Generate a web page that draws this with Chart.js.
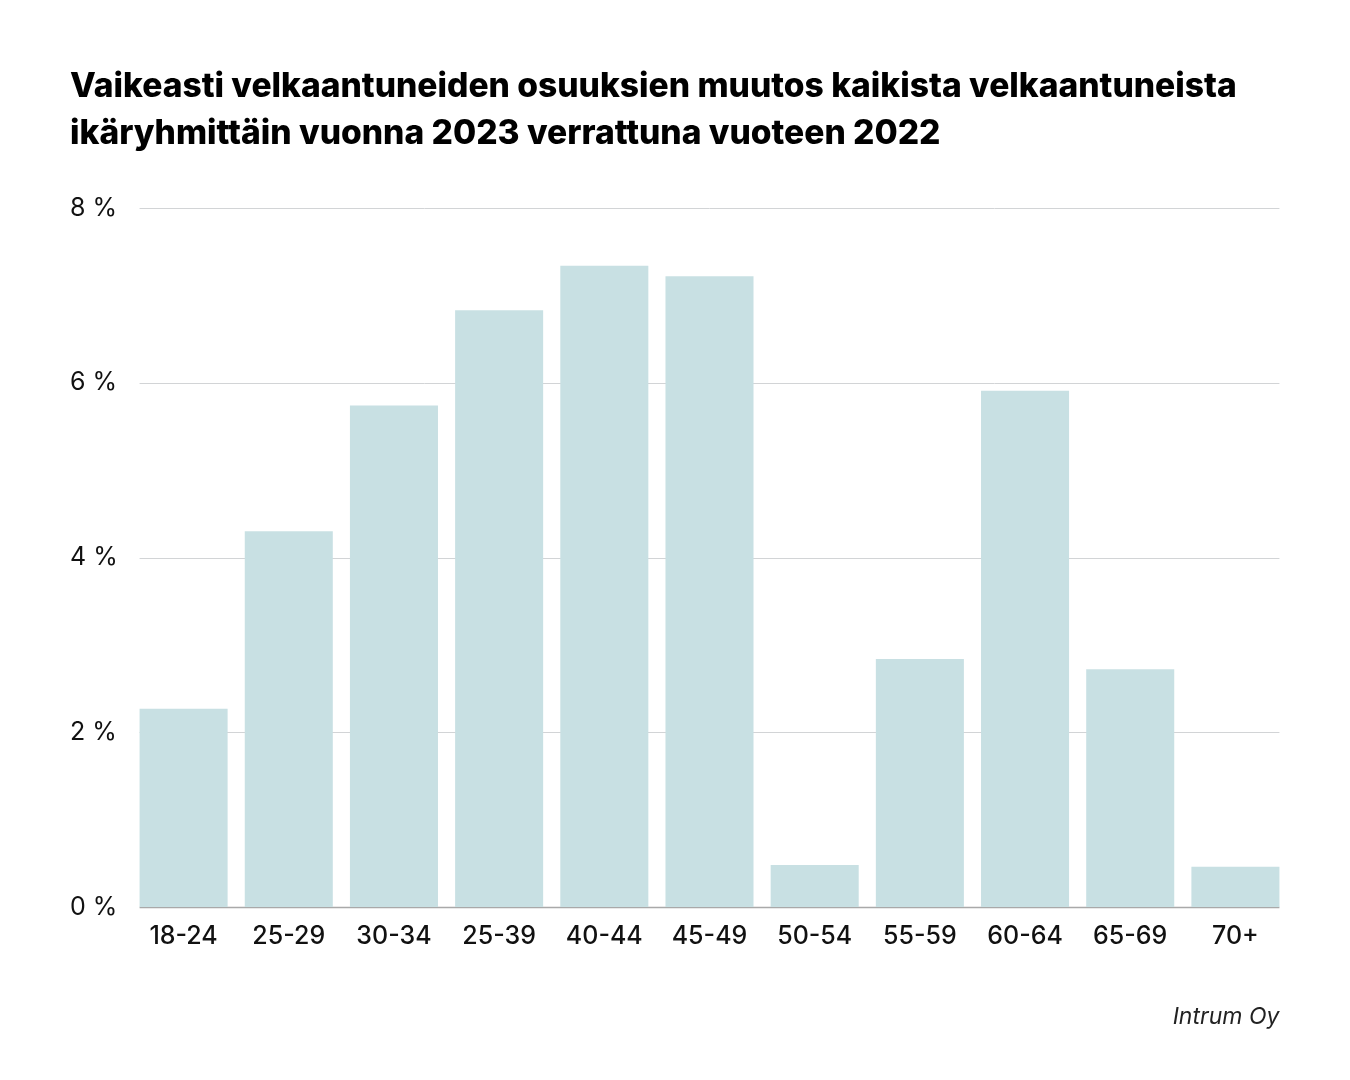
<!DOCTYPE html>
<html>
<head>
<meta charset="utf-8">
<script src="https://cdn.jsdelivr.net/npm/chart.js@4"></script>
<style>
  html, body { margin: 0; padding: 0; background: #fff; }
  #wrap { width: 1350px; height: 1080px; }
</style>
</head>
<body>
<div id="wrap"><canvas id="barChart"></canvas></div>
<script>
const ageGroups = ["18-24", "25-29", "30-34", "25-39", "40-44", "45-49", "50-54", "55-59", "60-64", "65-69", "70+"];
const shareChange = [2.27, 4.3, 5.74, 6.83, 7.34, 7.22, 0.48, 2.84, 5.91, 2.72, 0.46];
const yTicks = [0, 2, 4, 6, 8];
const titleLines = [
  "Vaikeasti velkaantuneiden osuuksien muutos kaikista velkaantuneista",
  "ikäryhmittäin vuonna 2023 verrattuna vuoteen 2022",
];
const sourceText = "Intrum Oy";

const FONT = "Inter, 'Noto Sans', sans-serif";

// grid lines only span from first bar to last bar
const gridPlugin = {
  id: "barGrid",
  beforeDatasetsDraw(chart) {
    const bars = chart.getDatasetMeta(0).data;
    const first = bars[0], last = bars[bars.length - 1];
    const x0 = first.x - first.width / 2;
    const x1 = last.x + last.width / 2;
    const y = chart.scales.y;
    const c = chart.ctx;
    c.save();
    yTicks.forEach((t) => {
      const py = Math.round(y.getPixelForValue(t)) + 0.5;
      c.strokeStyle = t === 0 ? "#a9a9a9" : "#d2d4d6";
      c.lineWidth = t === 0 ? 1.5 : 1;
      c.beginPath();
      c.moveTo(x0, py);
      c.lineTo(x1, py);
      c.stroke();
    });
    c.restore();
  },
  afterDraw(chart) {
    const bars = chart.getDatasetMeta(0).data;
    const last = bars[bars.length - 1];
    const c = chart.ctx;
    c.save();
    c.font = "italic 23px " + FONT;
    c.fillStyle = "#222";
    c.textAlign = "right";
    c.textBaseline = "middle";
    c.fillText(sourceText, last.x + last.width / 2, 1017);
    c.restore();
  },
};

const ctx = document.getElementById("barChart");

new Chart(ctx, {
  type: "bar",
  data: {
    labels: ageGroups,
    datasets: [
      {
        data: shareChange,
        backgroundColor: "#c8e0e3",
        borderWidth: 0,
        categoryPercentage: 1,
        barPercentage: 0.837,
      },
    ],
  },
  options: {
    responsive: true,
    maintainAspectRatio: false,
    animation: false,
    devicePixelRatio: 1,
    layout: {
      padding: { left: 70, right: 62, top: 0, bottom: 113 },
    },
    plugins: {
      legend: { display: false },
      tooltip: { enabled: false },
      title: {
        display: true,
        text: titleLines,
        align: "start",
        color: "#000",
        font: { family: FONT, size: 33.6, weight: "800", lineHeight: 1.4 },
        padding: { top: 63, bottom: 51 },
      },
    },
    scales: {
      x: {
        grid: { display: false, drawTicks: false },
        border: { display: false },
        ticks: {
          color: "#111",
          font: { family: FONT, size: 25, weight: "500" },
          padding: 14,
          maxRotation: 0,
        },
        afterFit(scale) {
          scale.height = 60;
        },
      },
      y: {
        min: 0,
        max: 8,
        grid: { display: false, drawTicks: false },
        border: { display: false },
        ticks: {
          stepSize: 2,
          crossAlign: "far",
          color: "#111",
          font: { family: FONT, size: 25, weight: "400" },
          callback: (v) => v + " %",
        },
        afterFit(scale) {
          scale.width = 61;
        },
      },
    },
  },
  plugins: [gridPlugin],
});
</script>
</body>
</html>
